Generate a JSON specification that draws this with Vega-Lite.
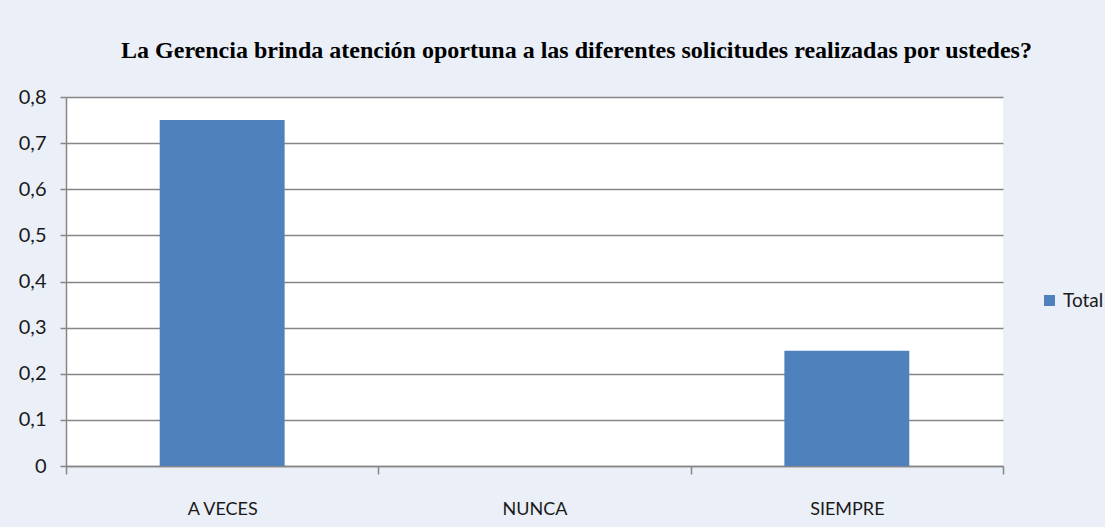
{
  "$schema": "https://vega.github.io/schema/vega-lite/v6.json",
  "width": 937,
  "height": 369,
  "autosize": {"type": "none"},
  "padding": {"left": 66, "top": 97, "right": 102, "bottom": 61},
  "background": "#eaeff8",
  "title": {
    "text": "La Gerencia brinda atención oportuna a las diferentes solicitudes realizadas por ustedes?",
    "font": "Liberation Serif",
    "fontSize": 24,
    "fontWeight": "bold",
    "color": "#000000",
    "anchor": "middle",
    "dx": 42,
    "offset": 24
  },
  "data": {
    "values": [
      {"respuesta": "A VECES", "valor": 0.75, "serie": "Total"},
      {"respuesta": "NUNCA", "valor": 0, "serie": "Total"},
      {"respuesta": "SIEMPRE", "valor": 0.25, "serie": "Total"}
    ]
  },
  "mark": {"type": "bar", "width": {"band": 0.4}},
  "encoding": {
    "x": {
      "field": "respuesta",
      "type": "nominal",
      "sort": null,
      "scale": {"paddingInner": 0, "paddingOuter": 0},
      "axis": {
        "title": null,
        "labelAngle": 0,
        "labelFont": "Lato",
        "labelFontSize": 18,
        "labelColor": "#1a1a1a",
        "labelPadding": 26,
        "tickBand": "extent",
        "tickSize": 8,
        "tickColor": "#868686",
        "tickWidth": 1.5,
        "domainColor": "#868686",
        "domainWidth": 1.5,
        "grid": false
      }
    },
    "y": {
      "field": "valor",
      "type": "quantitative",
      "scale": {"domain": [0, 0.8], "nice": false},
      "axis": {
        "title": null,
        "values": [0, 0.1, 0.2, 0.3, 0.4, 0.5, 0.6, 0.7, 0.8],
        "labelExpr": "datum.value == 0 ? '0' : replace(format(datum.value, '.1f'), '.', ',')",
        "labelFont": "Lato",
        "labelFontSize": 20,
        "labelColor": "#1a1a1a",
        "labelPadding": 14,
        "tickSize": 6,
        "tickColor": "#868686",
        "tickWidth": 1.5,
        "domainColor": "#868686",
        "domainWidth": 1.5,
        "grid": true,
        "gridColor": "#868686",
        "gridWidth": 1.5
      }
    },
    "color": {
      "field": "serie",
      "type": "nominal",
      "scale": {"range": ["#4f81bd"]},
      "legend": {
        "title": null,
        "orient": "none",
        "legendX": 974,
        "legendY": 194,
        "symbolType": "square",
        "symbolSize": 120,
        "symbolStrokeWidth": 0,
        "labelFont": "Lato",
        "labelFontSize": 19,
        "labelColor": "#1a1a1a"
      }
    }
  },
  "config": {
    "view": {"fill": "#ffffff", "stroke": null}
  }
}
